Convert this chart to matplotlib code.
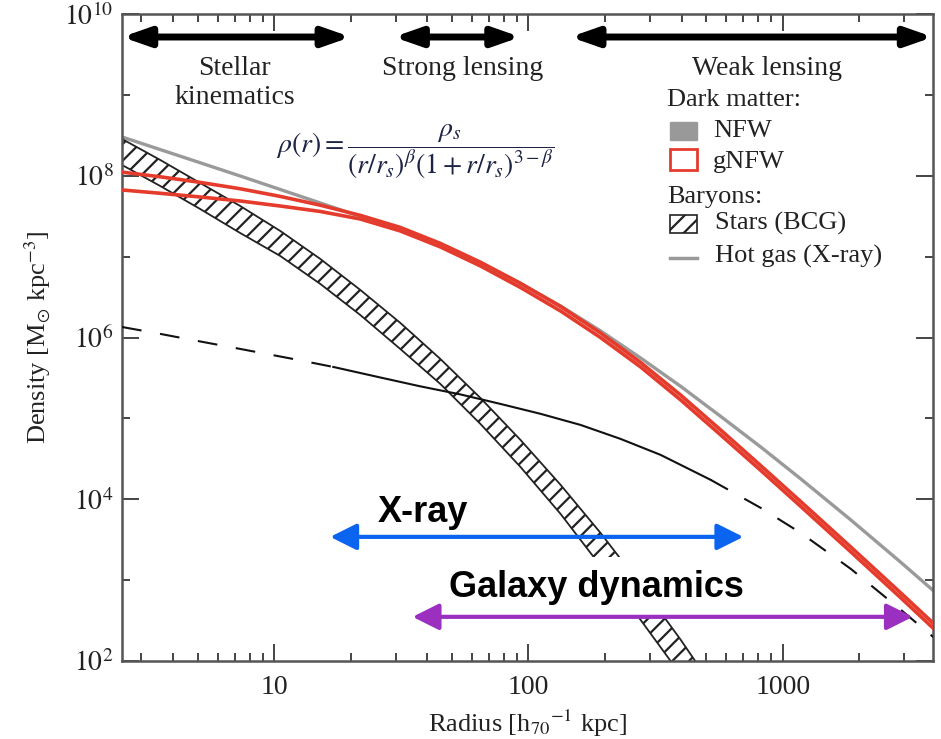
import math
import matplotlib
matplotlib.use('Agg')
import matplotlib.pyplot as plt
from matplotlib.patches import Rectangle
from matplotlib.lines import Line2D
from matplotlib.ticker import LogLocator, FixedLocator, NullFormatter, FuncFormatter

plt.rcParams['font.family'] = ['Liberation Serif', 'DejaVu Serif']
plt.rcParams['mathtext.fontset'] = 'stix'
plt.rcParams['hatch.linewidth'] = 1.6

# radius grid shared by the dark matter profiles [kpc]
radius = [2.52, 3.56, 5.11, 7.35, 10.56, 15.18, 21.8, 31.3, 45.0, 64.7, 93.0,
          133.7, 192, 276, 397, 570, 819, 1177, 1852, 2915, 4585]

# dark matter, NFW fit
nfw_rho = [3.02e8, 2.11e8, 1.45e8, 9.94e7, 6.77e7, 4.61e7, 3.14e7, 2.14e7, 1.40e7, 8.36e6,
           4.66e6, 2.46e6, 1.21e6, 5.59e5, 2.49e5, 1.06e5, 4.44e4, 1.79e4, 5.56e3, 1.66e3, 481]

# dark matter, gNFW fit (two edges of the band)
gnfw_hi = [1.11e8, 9.72e7, 8.29e7, 6.91e7, 5.56e7, 4.33e7, 3.24e7, 2.30e7, 1.46e7, 8.55e6,
           4.68e6, 2.42e6, 1.14e6, 4.92e5, 1.94e5, 7.19e4, 2.61e4, 9.37e3, 2.57e3, 693, 184]
gnfw_lo = [6.68e7, 6.08e7, 5.47e7, 4.88e7, 4.23e7, 3.62e7, 2.92e7, 2.08e7, 1.32e7, 7.68e6,
           4.16e6, 2.13e6, 1.00e6, 4.33e5, 1.69e5, 6.25e4, 2.28e4, 8.17e3, 2.24e3, 604, 159]

# stars in the BCG
stars_r = [2.52, 3.56, 5.11, 7.35, 10.56, 15.18, 21.8, 31.3, 45.0, 64.7, 93.0,
           133.7, 192, 276, 397, 521]
stars_hi = [2.85e8, 1.57e8, 8.15e7, 4.23e7, 2.08e7, 9.37e6, 3.88e6, 1.52e6, 5.44e5, 1.79e5,
            5.42e4, 1.51e4, 3.84e3, 875, 183, 52.3]
stars_lo = [1.36e8, 7.48e7, 3.89e7, 1.96e7, 1.02e7, 4.60e6, 1.90e6, 7.23e5, 2.67e5, 8.55e4,
            2.51e4, 6.60e3, 1.50e3, 323, 67.5, 19.9]

# hot gas from X-ray: measured between 17 and 520 kpc, extrapolated outside
gas_r = [2.52, 3.56, 5.11, 7.35, 11.56, 17.07, 26.1, 37.6, 54.0, 77.6, 111.5, 160.2,
         230.2, 330.9, 520.6, 819, 1177, 1852, 2915, 4585]
gas_rho = [1.35e6, 1.11e6, 8.95e5, 7.23e5, 5.52e5, 4.33e5, 3.21e5, 2.49e5, 1.98e5, 1.51e5,
           1.14e5, 8.31e4, 5.58e4, 3.54e4, 1.74e4, 7.83e3, 3.84e3, 1.38e3, 430, 130]
gas_in, gas_out = 5, 14

# radial ranges of each probe
probe_names = ['Stellar\nkinematics', 'Strong lensing', 'Weak lensing']
probe_lo = [2.52, 29.5, 146]
probe_hi = [20, 93, 3900]
probe_label_r = [7.0, 55, 870]

xray_range = [16.6, 700]
dyn_range = [35, 3250]

fig = plt.figure(figsize=(9.41, 7.39), dpi=100)
ax = fig.add_axes([0.1297, 0.1055, 0.8618, 0.8755])
ax.set_xscale('log')
ax.set_yscale('log')
ax.set_xlim(2.52, 3900)
ax.set_ylim(1e2, 1e10)

# curves
ax.plot(radius, nfw_rho, color='#9a9a9a', lw=2.4, zorder=2)
ax.plot(radius, gnfw_hi, color='#e53b2c', lw=2.6, zorder=3)
ax.plot(radius, gnfw_lo, color='#e53b2c', lw=2.6, zorder=3)
ax.fill_between(stars_r, stars_lo, stars_hi, facecolor='white', edgecolor='#222222',
                hatch='//', lw=1.3, zorder=2)
ax.plot(gas_r[:gas_in + 1], gas_rho[:gas_in + 1], color='#111111', lw=1.5,
        dashes=(9.5, 9), zorder=3)
ax.plot(gas_r[gas_in:gas_out + 1], gas_rho[gas_in:gas_out + 1], color='#111111', lw=1.5, zorder=3)
ax.plot(gas_r[gas_out:], gas_rho[gas_out:], color='#111111', lw=1.5, dashes=(9.5, 9), zorder=3)

# probe ranges along the top
for name, lo, hi, xr in zip(probe_names, probe_lo, probe_hi, probe_label_r):
    ax.annotate('', xy=(hi, 5.2e9), xytext=(lo, 5.2e9),
                arrowprops=dict(arrowstyle='<|-|>,head_length=0.8,head_width=0.28',
                                mutation_scale=20, lw=5, color='black',
                                shrinkA=0, shrinkB=0), zorder=5)
    ax.text(xr, 3.0e9, name, ha='center', va='top', fontsize=20,
            color='#222222', linespacing=1.2)

# profile formula
ax.text(0.362, 0.787, r'$\rho(r) = \dfrac{\rho_s}{(r/r_s)^{\beta}(1+r/r_s)^{3-\beta}}$',
        transform=ax.transAxes, ha='center', va='center', fontsize=20, color='#1c2345',
        bbox=dict(facecolor='white', edgecolor='none', pad=1), zorder=4)

# legend
tr = ax.transAxes
ax.text(0.672, 0.867, 'Dark matter:', transform=tr, fontsize=19, va='center', color='#222222')
ax.add_patch(Rectangle((0.676, 0.806), 0.033, 0.027, transform=tr,
                       facecolor='#999999', edgecolor='#999999', zorder=6))
ax.text(0.729, 0.819, 'NFW', transform=tr, fontsize=19, va='center', color='#222222')
ax.add_patch(Rectangle((0.676, 0.759), 0.033, 0.032, transform=tr,
                       facecolor='white', edgecolor='#e53b2c', lw=2, zorder=6))
ax.text(0.729, 0.771, 'gNFW', transform=tr, fontsize=19, va='center', color='#222222')
ax.text(0.672, 0.717, 'Baryons:', transform=tr, fontsize=19, va='center', color='#222222')
ax.add_patch(Rectangle((0.676, 0.662), 0.033, 0.028, transform=tr,
                       facecolor='white', edgecolor='#222222', hatch='//', lw=1.2, zorder=6))
ax.text(0.731, 0.677, 'Stars (BCG)', transform=tr, fontsize=19, va='center', color='#222222')
ax.add_line(Line2D([0.676, 0.709], [0.623, 0.623], transform=tr, color='#999999', lw=2.5))
ax.text(0.731, 0.625, 'Hot gas (X-ray)', transform=tr, fontsize=19, va='center', color='#222222')

# X-ray and galaxy dynamics ranges
ax.annotate('', xy=(xray_range[1], 3.43e3), xytext=(xray_range[0], 3.43e3),
            arrowprops=dict(arrowstyle='<|-|>,head_length=1.0,head_width=0.5',
                            mutation_scale=16, lw=3, color='#0a64f0',
                            shrinkA=0, shrinkB=0), zorder=8)
ax.text(38.6, 5.2e3, 'X-ray', ha='center', va='baseline', fontsize=26,
        family='Liberation Sans', weight='bold', color='black',
        bbox=dict(facecolor='white', edgecolor='none', pad=4), zorder=7)
ax.annotate('', xy=(dyn_range[1], 352), xytext=(dyn_range[0], 352),
            arrowprops=dict(arrowstyle='<|-|>,head_length=1.0,head_width=0.5',
                            mutation_scale=16, lw=3, color='#9a2fc0',
                            shrinkA=0, shrinkB=0), zorder=8)
ax.text(185, 622, 'Galaxy dynamics', ha='center', va='baseline', fontsize=26,
        family='Liberation Sans', weight='bold', color='black',
        bbox=dict(facecolor='white', edgecolor='none', pad=9), zorder=7)

# axes styling
ax.yaxis.set_major_locator(FixedLocator([1e2, 1e4, 1e6, 1e8, 1e10]))
ax.yaxis.set_minor_locator(FixedLocator([1e3, 1e5, 1e7, 1e9]))
ax.yaxis.set_major_formatter(FuncFormatter(lambda v, p: r'$10^{%d}$' % round(math.log10(v))))
ax.yaxis.set_minor_formatter(NullFormatter())
ax.xaxis.set_major_locator(LogLocator(base=10))
ax.xaxis.set_minor_locator(LogLocator(base=10, subs=range(2, 10)))
ax.xaxis.set_major_formatter(FuncFormatter(lambda v, p: '%d' % round(v)))
ax.xaxis.set_minor_formatter(NullFormatter())

ax.tick_params(which='both', direction='in', top=True, right=True, color='#444444', width=1.4)
ax.tick_params(which='major', length=12, labelsize=20, labelcolor='#222222')
ax.tick_params(which='minor', length=6)
ax.tick_params(axis='x', which='major', pad=10)
ax.tick_params(axis='y', which='major', pad=6)
for sp in ax.spines.values():
    sp.set_color('#555555')
    sp.set_linewidth(1.8)

ax.set_xlabel(r'Radius [h$_{70}$$^{-1}$ kpc]', fontsize=19, color='#222222', labelpad=6)
ax.set_ylabel(r'Density [M$_{\odot}$ kpc$^{-3}$]', fontsize=19, color='#222222', labelpad=8)

fig.savefig('out.png', dpi=100)
